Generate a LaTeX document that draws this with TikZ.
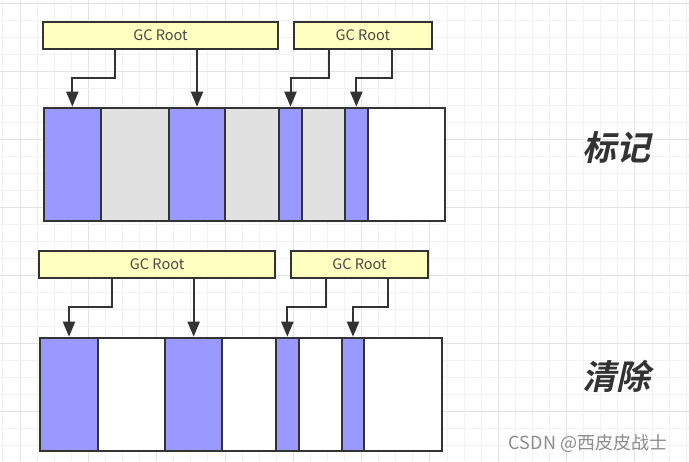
\documentclass[tikz,border=0pt]{standalone}
\usepackage{fontspec}
\setmainfont{Noto Sans CJK SC}
\newfontfamily\cjk{Noto Sans CJK SC}
\newfontfamily\cjkbi{Noto Sans CJK SC Bold}[FakeSlant=0.22]
\usetikzlibrary{arrows.meta}
\definecolor{bord}{HTML}{333333}
\definecolor{purp}{HTML}{9999FF}
\definecolor{grey}{HTML}{E1E1E1}
\definecolor{ylw}{HTML}{FFFFC0}
\definecolor{gminor}{HTML}{F2F2F2}
\definecolor{gmajor}{HTML}{E3E3E3}
\tikzset{
  rootbox/.style={draw=bord, fill=ylw, line width=2pt, minimum height=27pt, inner sep=0pt, font=\cjk\fontsize{14.5}{16}\selectfont, text=bord!90},
  cell/.style={draw=bord, line width=2pt, minimum height=113.3pt, inner sep=0pt, anchor=north west},
  arr/.style={draw=bord, line width=2pt, -{Triangle[length=15pt,width=12pt]}},
  big/.style={font=\cjkbi\fontsize{34}{38}\selectfont, text=bord},
}
\begin{document}
\begin{tikzpicture}[x=1pt,y=-1pt]
\useasboundingbox (0,0) rectangle (689,462);
\fill[white] (0,0) rectangle (689,462);
% grid
\foreach \i in {-1,...,40}{
  \pgfmathsetmacro\xx{20+\i*17.08}
  \pgfmathtruncatemacro\m{mod(\i+4,4)}
  \ifnum\m=0 \draw[gmajor,line width=0.9pt] (\xx,0) -- (\xx,462);
  \else \draw[gminor,line width=0.9pt] (\xx,0) -- (\xx,462); \fi
}
\foreach \j in {0,...,28}{
  \pgfmathsetmacro\yy{3.1+\j*17.03}
  \pgfmathtruncatemacro\m{mod(\j,4)}
  \ifnum\m=0 \draw[gmajor,line width=0.9pt] (0,\yy) -- (689,\yy);
  \else \draw[gminor,line width=0.9pt] (0,\yy) -- (689,\yy); \fi
}
% ---------- top (mark) ----------
\node[rootbox, minimum width=235.6pt] (ga) at (160.5,35.2) {GC Root};
\node[rootbox, minimum width=137.7pt] (gb) at (362.85,35.2) {GC Root};
\node[cell, fill=purp, minimum width=57.3pt] (a1) at (42.7,106.7) {};
\node[cell, fill=grey, minimum width=67.7pt] (a2) at (100,106.7) {};
\node[cell, fill=purp, minimum width=56.6pt] (a3) at (167.7,106.7) {};
\node[cell, fill=grey, minimum width=54pt] (a4) at (224.3,106.7) {};
\node[cell, fill=purp, minimum width=22.4pt] (a5) at (278.3,106.7) {};
\node[cell, fill=grey, minimum width=43.3pt] (a6) at (300.7,106.7) {};
\node[cell, fill=purp, minimum width=22.7pt] (a7) at (344,106.7) {};
\node[cell, fill=white, minimum width=77.6pt] (a8) at (366.7,106.7) {};
\coordinate (ba1) at (115,78.3);
\coordinate (ba3) at (329.3,78.3);
\coordinate (ba4) at (391.7,78.3);
\draw[arr] (ga.south -| ba1) -- (ba1) -| (a1.north);
\draw[arr] (ga.south -| a3.north) -- (a3.north);
\draw[arr] (gb.south -| ba3) -- (ba3) -| (a5.north);
\draw[arr] (gb.south -| ba4) -- (ba4) -| (a7.north);
\node[big] (mark) at (616.5,147.5) {标记};
% ---------- bottom (sweep) ----------
\node[rootbox, minimum width=235.7pt] (gc) at (157.15,264.5) {GC Root};
\node[rootbox, minimum width=137.6pt] (gd) at (359.5,264.5) {GC Root};
\node[cell, fill=purp, minimum width=57.4pt] (b1) at (39.3,336.7) {};
\node[cell, fill=white, minimum width=67.6pt] (b2) at (96.7,336.7) {};
\node[cell, fill=purp, minimum width=56.7pt] (b3) at (164.3,336.7) {};
\node[cell, fill=white, minimum width=54pt] (b4) at (221,336.7) {};
\node[cell, fill=purp, minimum width=22.7pt] (b5) at (275,336.7) {};
\node[cell, fill=white, minimum width=43pt] (b6) at (297.7,336.7) {};
\node[cell, fill=purp, minimum width=22.6pt] (b7) at (340.7,336.7) {};
\node[cell, fill=white, minimum width=77.7pt] (b8) at (363.3,336.7) {};
\coordinate (bb1) at (111.7,307.3);
\coordinate (bb3) at (326,307.3);
\coordinate (bb4) at (388.3,307.3);
\draw[arr] (gc.south -| bb1) -- (bb1) -| (b1.north);
\draw[arr] (gc.south -| b3.north) -- (b3.north);
\draw[arr] (gd.south -| bb3) -- (bb3) -| (b5.north);
\draw[arr] (gd.south -| bb4) -- (bb4) -| (b7.north);
\node[big] (sweep) at (616.5,376) {清除};
% watermark
\node[font=\cjk\fontsize{18}{20}\selectfont, text=black!45] (wm) at (588,443) {CSDN @西皮皮战士};
\end{tikzpicture}
\end{document}
